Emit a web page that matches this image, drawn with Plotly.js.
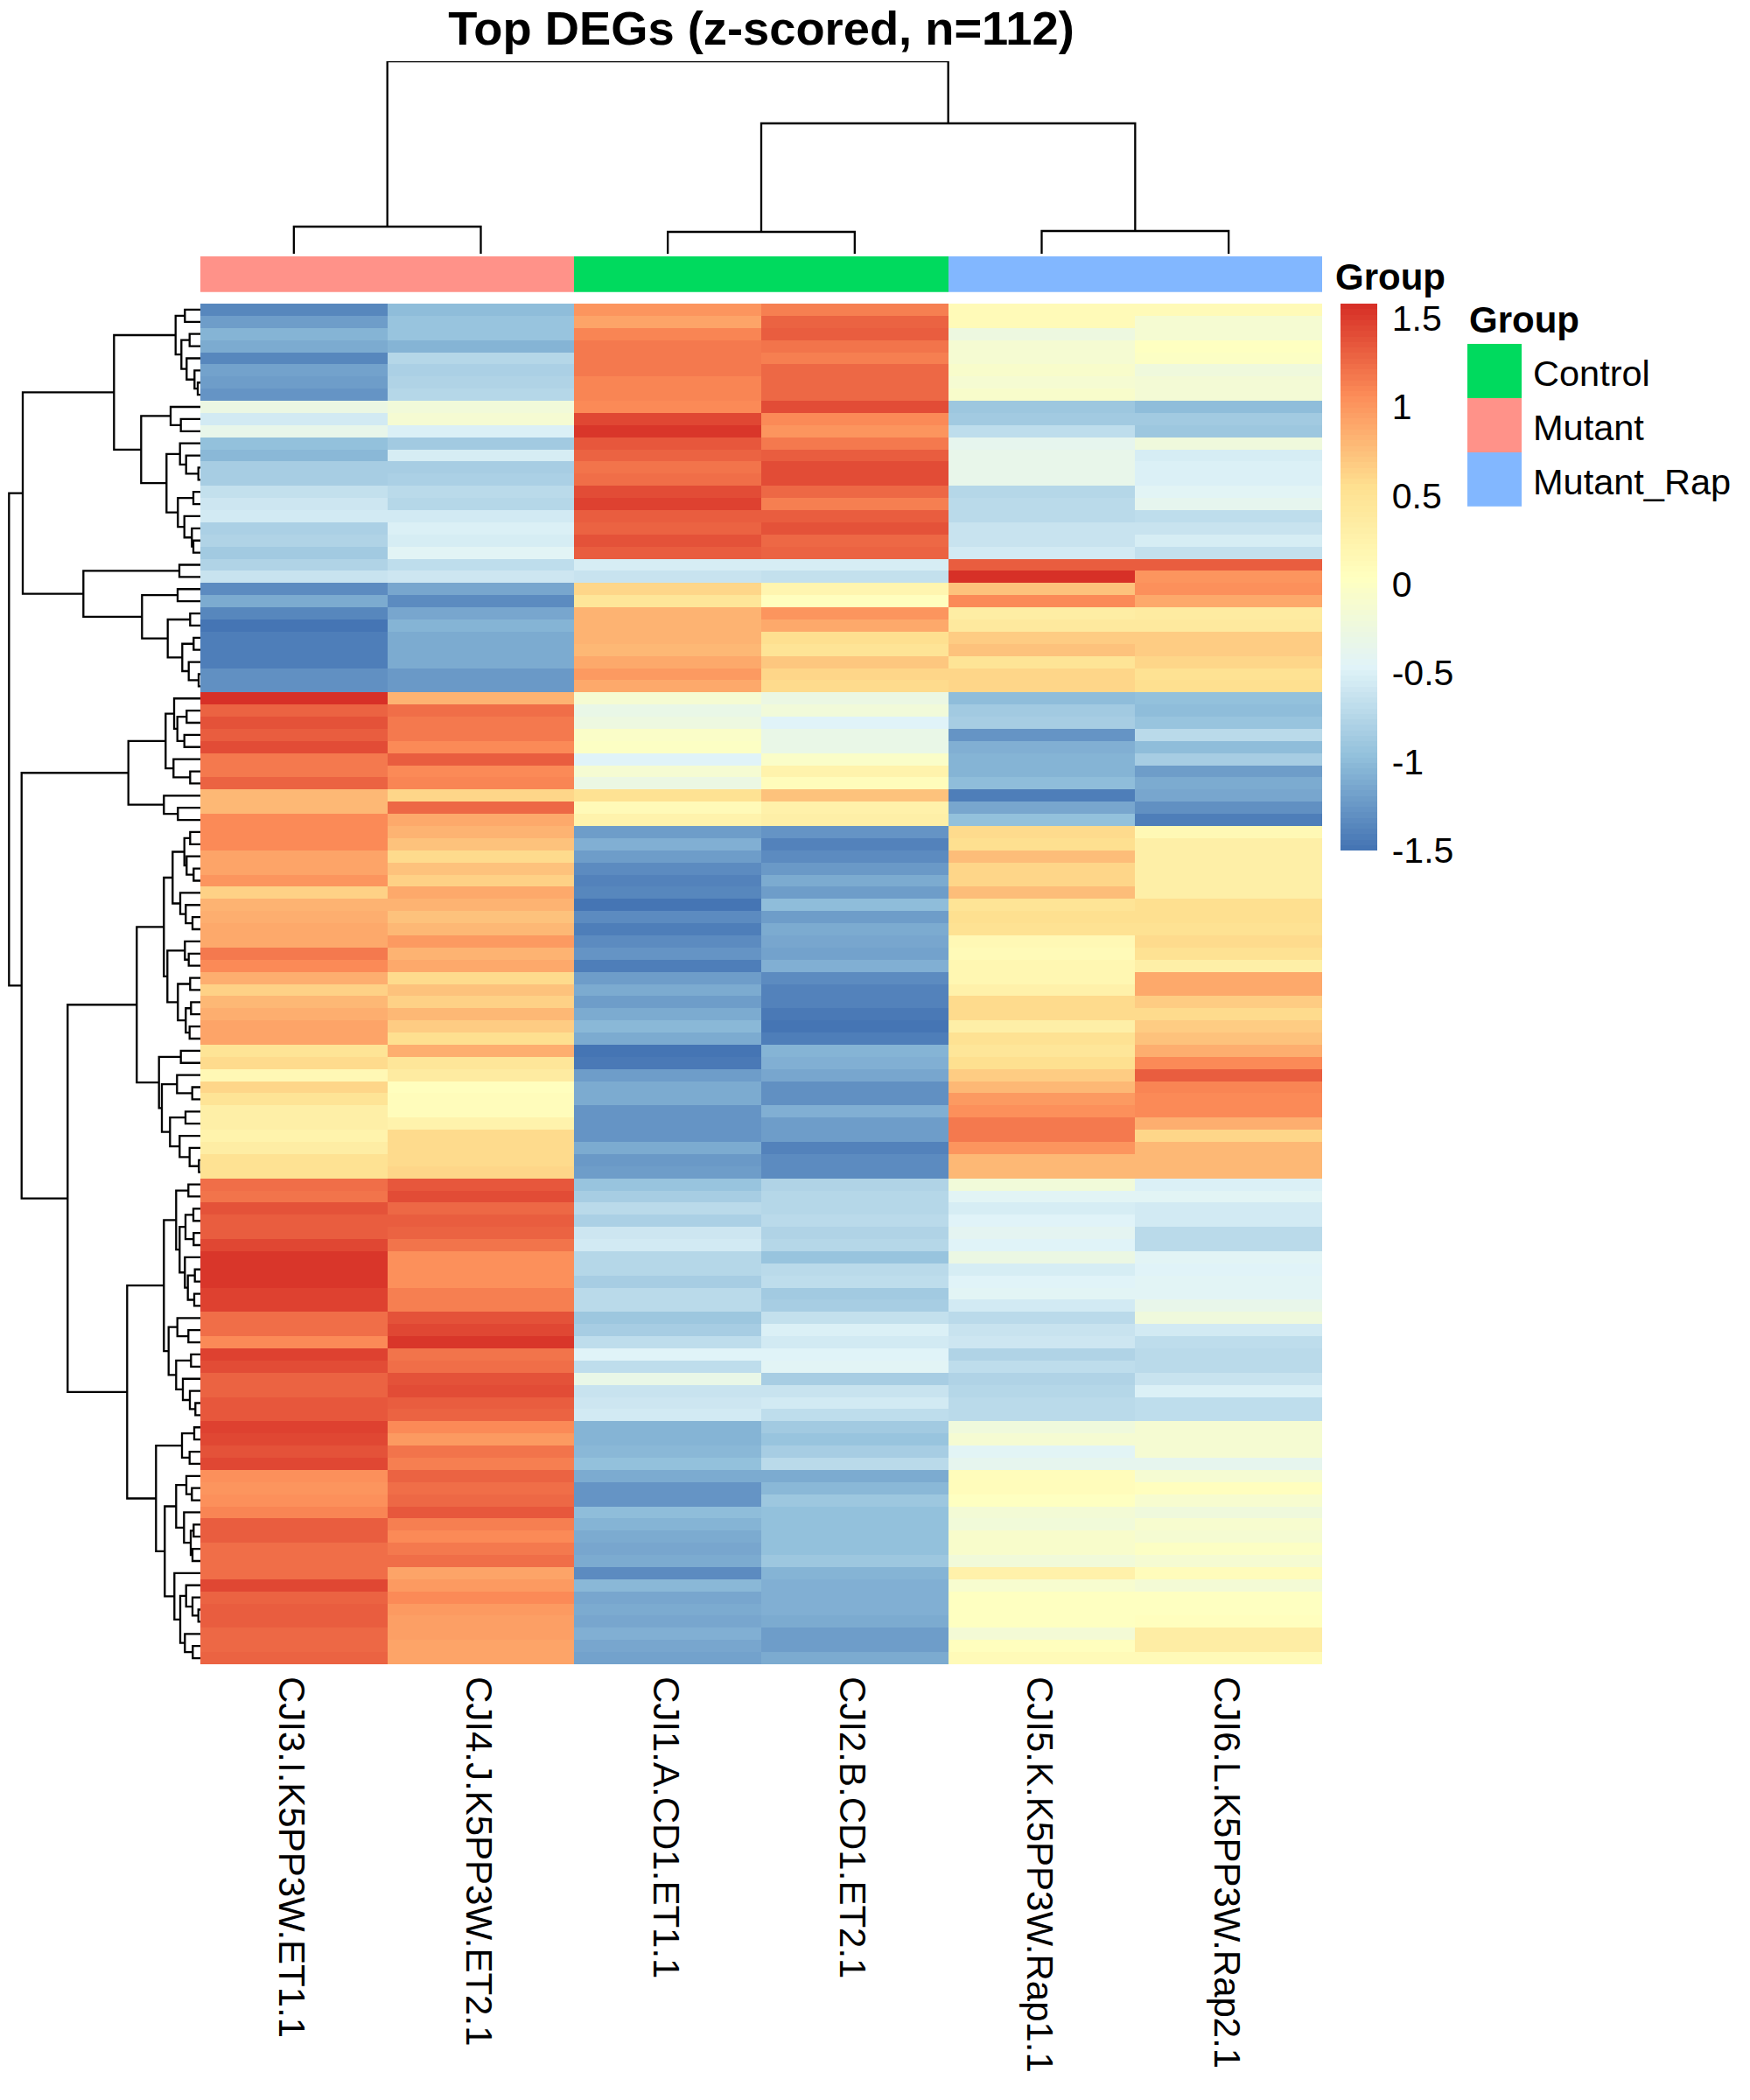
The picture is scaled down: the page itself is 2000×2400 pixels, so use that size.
<!DOCTYPE html>
<html><head><meta charset="utf-8">
<script src="https://cdn.plot.ly/plotly-3.0.1.min.js"></script>
<style>html,body{margin:0;padding:0;background:#fff}</style></head>
<body><div id="chart" style="width:2000px;height:2400px"></div>
<script>
const sampleLabels = ["CJI3.I.K5PP3W.ET1.1","CJI4.J.K5PP3W.ET2.1","CJI1.A.CD1.ET1.1","CJI2.B.CD1.ET2.1","CJI5.K.K5PP3W.Rap1.1","CJI6.L.K5PP3W.Rap2.1"];
const groupNames = ["Control","Mutant","Mutant_Rap"];
const groupColors = ["#00DA5E","#FF9289","#82B7FF"];
const sampleGroups = [1,1,0,0,2,2];
const paletteAnchors = ["#4575B4","#91BFDB","#E0F3F8","#FFFFBF","#FEE090","#FC8D59","#D73027"];
const zMin = -1.5, zMax = 1.58;
const legendTicks = [-1.5,-1,-0.5,0,0.5,1,1.5];
const legendTickText = ["-1.5","-1","-0.5","0","0.5","1","1.5"];

const cji3 = [-1.35,-1.22,-1.05,-1.1,-1.35,-1.18,-1.22,-1.28,-.27,-.56,-.33,-.97,-1.03,-.83,-.84,-.64,-.6,-.57,-.82,-.79,-.88,-.79,-.63,-1.34,-1.1,-1.36,-1.47,-1.42,-1.42,-1.42,-1.31,-1.3,
 1.56,1.28,1.38,1.31,1.41,1.16,1.16,1.28,.78,.78,1.06,1.06,1.06,.93,.93,1.0,.65,.83,.87,.88,.88,1.15,1.06,.87,.65,.78,.86,.93,.93,.5,.57,.16,.6,.5,.3,.3,.25,.32,.53,.53,
 1.23,1.2,1.37,1.33,1.33,1.44,1.53,1.53,1.53,1.48,1.48,1.24,1.24,1.08,1.48,1.42,1.3,1.28,1.35,1.35,1.47,1.44,1.37,1.44,1.04,1.01,1.04,1.1,1.33,1.33,1.24,1.24,1.24,1.43,1.28,1.33,1.33,1.26,1.26,1.28];
const cji4 = [-1.0,-.93,-.92,-1.06,-.76,-.82,-.78,-.75,-.2,-.12,-.5,-.87,-.54,-.83,-.8,-.7,-.74,-.57,-.49,-.53,-.45,-.68,-.59,-1.14,-1.32,-1.14,-1.04,-1.1,-1.1,-1.1,-1.25,-1.25,
 .84,1.22,1.16,1.16,1.06,1.31,1.06,1.09,.6,1.25,.9,.82,.73,.58,.73,.65,.88,.83,.73,.78,.98,.83,.88,.58,.72,.65,.78,.68,.55,.86,.46,.35,.07,.1,.1,.24,.57,.57,.57,.62,
 1.35,1.42,1.25,1.33,1.3,1.2,1.03,1.04,1.04,1.14,1.14,1.39,1.43,1.53,1.18,1.23,1.37,1.4,1.33,1.3,1.06,.98,1.2,1.12,1.3,1.24,1.26,1.35,1.12,1.06,1.17,1.24,.93,.98,1.06,.98,.96,.96,.91,.91];
const cji1 = [1.0,.93,1.1,1.15,1.16,1.15,1.1,1.1,1.08,1.43,1.52,1.35,1.28,1.18,1.24,1.41,1.47,1.31,1.28,1.37,1.33,-.53,-.63,.62,.45,.82,.82,.82,.78,.9,.98,.9,
 -.12,-.32,-.24,-.05,0,-.47,-.13,-.27,.53,.13,.23,-1.22,-1.09,-1.22,-1.34,-1.39,-1.37,-1.5,-1.33,-1.43,-1.33,-1.27,-1.42,-1.22,-1.13,-1.22,-1.12,-1.03,-1.11,-1.49,-1.45,-1.22,-1.13,-1.13,-1.28,-1.27,-1.27,-1.11,-1.24,-1.22,
 -.93,-.85,-.73,-.8,-.6,-.55,-.76,-.76,-.84,-.72,-.7,-.9,-.84,-.69,-.48,-.67,-.3,-.62,-.59,-.55,-1.04,-1.06,-1.02,-.97,-1.1,-1.28,-1.28,-1.0,-1.04,-1.11,-1.16,-1.11,-1.34,-1.03,-1.16,-1.12,-1.16,-1.09,-1.16,-1.19];
const cji2 = [1.12,1.29,1.32,1.18,1.14,1.25,1.27,1.26,1.4,1.08,1.02,1.15,1.32,1.41,1.4,1.25,1.14,1.31,1.38,1.26,1.28,-.53,-.66,.2,.05,1.02,.9,.55,.48,.7,.6,.57,
 -.28,-.2,-.47,-.32,-.32,-.03,.25,.08,.72,.28,.3,-1.27,-1.38,-1.33,-1.25,-1.13,-1.22,-1.0,-1.22,-1.13,-1.16,-1.18,-1.07,-1.33,-1.38,-1.38,-1.45,-1.48,-1.43,-1.05,-1.08,-1.16,-1.29,-1.29,-1.09,-1.2,-1.22,-1.38,-1.33,-1.33,
 -.78,-.76,-.76,-.7,-.78,-.75,-.93,-.73,-.67,-.88,-.85,-.66,-.49,-.56,-.48,-.45,-.83,-.63,-.57,-.67,-.88,-.92,-.83,-.73,-1.1,-1.03,-.91,-.95,-.97,-.97,-.97,-.91,-1.05,-1.08,-1.08,-1.09,-1.11,-1.2,-1.2,-1.12];
const cji5 = [.13,.13,-.25,-.14,-.14,-.06,-.12,-.08,-.9,-.87,-.69,-.37,-.35,-.35,-.35,-.74,-.73,-.73,-.62,-.62,-.56,1.31,1.57,.72,1.08,.33,.4,.66,.72,.48,.62,.62,
 -.98,-.88,-.84,-1.26,-1.07,-1.04,-1.04,-1.0,-1.42,-1.16,-.97,.57,.55,.76,.62,.6,.76,.48,.55,.52,.15,.13,.17,.17,.28,.57,.57,.3,.52,.47,.56,.68,.78,.97,1.03,1.16,1.16,1.02,.78,.78,
 -.2,-.43,-.53,-.48,-.42,-.48,-.27,-.52,-.48,-.44,-.56,-.7,-.62,-.6,-.78,-.69,-.78,-.75,-.72,-.7,-.23,-.14,-.44,-.38,.08,.08,.04,-.16,-.2,-.07,-.07,-.2,.28,-.1,.02,.02,.02,-.16,.06,.13];
const cji6 = [.13,-.12,-.12,.03,-.02,-.22,-.17,-.16,-1.0,-.87,-.9,-.22,-.53,-.5,-.5,-.45,-.38,-.67,-.63,-.54,-.64,1.31,1.0,1.03,.9,.36,.4,.66,.68,.6,.52,.55,
 -.96,-1.0,-.92,-.72,-.98,-.85,-1.22,-1.13,-1.16,-1.3,-1.42,.14,.3,.3,.3,.3,.3,.55,.55,.53,.58,.52,.3,.9,.9,.68,.57,.68,.74,.86,1.06,1.33,1.09,1.06,1.06,.86,.62,.78,.78,.78,
 -.5,-.43,-.55,-.56,-.71,-.73,-.45,-.48,-.45,-.45,-.36,-.22,-.55,-.68,-.73,-.72,-.63,-.5,-.67,-.67,-.14,-.14,-.14,-.38,-.13,.05,-.1,-.22,-.11,-.14,0,-.13,.08,-.16,.02,.04,.07,.33,.33,.12];

// Dendrograms: node = [height, left, right]; a leaf is its row / column index.
const colTree = [220,[31,0,1],[149,[25,2,3],[26,4,5]]];
const rowUpperA = [98.7,[28.3,[17.7,0,1],[21.7,[12.3,2,3],[15.7,4,[6.7,5,[3,6,7]]]]],[67.7,[34,8,[22.3,9,10]],[38.7,[23.3,11,[16.3,12,[2.3,13,14]]],[25.7,[8,15,16],[18.3,17,[9.7,18,[8,19,20]]]]]]];
const rowUpperB = [133.7,[24,21,22],[66.7,[26,23,24],[37.3,[11.7,25,26],[20.7,[7.7,27,28],[13.3,29,[2,30,31]]]]]];
const rowLowerA = [82.3,[39.7,[30,32,[26.3,[15.7,33,34],[18.3,35,36]]],[30.7,37,[11.7,38,39]]],[41.7,40,[25.7,41,42]]];
const rowLowerB = [72.7,[41.7,[31.7,[18.3,[11.7,43,44],[15.7,45,[7.7,46,47]]],[23,48,[16.7,49,[9,50,51]]]],[37.7,[17.7,52,[13.3,53,54]],[25.7,[11.7,55,56],[16.7,[10.7,57,58],[12.3,59,60]]]]],[47.3,[22.3,61,62],[44,[26.7,63,[9.3,64,65]],[34.7,[17,66,67],[23.7,68,[12.3,69,[1.7,70,71]]]]]]];
const rowLowerC = [83.7,[41.7,[27.7,[13.7,72,73],[23.7,[17,[8,74,75],[7.7,76,77]],[17.7,78,[14.3,[6.3,79,80],[7,81,82]]]]],[36.3,[26.3,83,[13.7,84,85]],[27.7,[10.7,86,87],[20,88,[12,89,[5.7,90,91]]]]]],[50.7,[21,[7,92,93],[12.3,94,95]],[40.7,[27.7,[16,96,[9.7,97,98]],[18.7,99,[11,[7.7,100,101],[9,102,103]]]],[29.7,104,[23,[16.3,105,[9,106,[2.3,107,108]]],[17.7,109,[8.7,110,111]]]]]]];
const rowTree = [218.7,[203,rowUpperA,rowUpperB],[204.3,rowLowerA,[151.7,rowLowerB,rowLowerC]]];

function treePaths(tree){
  const pos=[], hgt=[];
  (function walk(n){
    if(typeof n==="number") return {p:n,h:0};
    const a=walk(n[1]), b=walk(n[2]);
    pos.push(a.p,a.p,b.p,b.p,null);
    hgt.push(a.h,n[0],n[0],b.h,null);
    return {p:(a.p+b.p)/2,h:n[0]};
  })(tree);
  return {pos,hgt};
}
function hex2rgb(h){return [1,3,5].map(i=>parseInt(h.substr(i,2),16));}
const ramp=[];
for(let i=0;i<100;i++){
  const t=i/99*(paletteAnchors.length-1), k=Math.min(Math.floor(t),paletteAnchors.length-2), f=t-k;
  const a=hex2rgb(paletteAnchors[k]), b=hex2rgb(paletteAnchors[k+1]);
  ramp.push("rgb("+a.map((v,j)=>Math.round(v+(b[j]-v)*f)).join(",")+")");
}
const heatScale=[];
ramp.forEach((c,i)=>{heatScale.push([i/100,c],[(i+1)/100,c]);});
function stepScale(cols){const s=[];cols.forEach((c,i)=>{s.push([i/cols.length,c],[(i+1)/cols.length,c]);});return s;}

const series=[cji3,cji4,cji1,cji2,cji5,cji6];
const zRows=cji3.map((_,r)=>series.map(s=>s[r]));

const W=2000,H=2400;
const dx=(a,b)=>[a/W,b/W], dy=(top,bottom)=>[1-bottom/H,1-top/H];
const F="Liberation Sans, Arial, sans-serif";
const rowP=treePaths(rowTree), colP=treePaths(colTree);
const hidden={visible:false,fixedrange:true};
const labelNudge=-0.014;

const data=[
 {type:"heatmap",z:zRows,x:[0,1,2,3,4,5],y:zRows.map((_,i)=>i),xaxis:"x",yaxis:"y",colorscale:heatScale,zmin:zMin,zmax:zMax,zsmooth:false,hoverinfo:"skip",
  colorbar:{x:1532/W,xanchor:"left",y:1-347/H,yanchor:"top",lenmode:"pixels",len:624.6,thicknessmode:"pixels",thickness:42,xpad:0,ypad:0,outlinewidth:0,borderwidth:0,ticks:"outside",ticklen:9,tickwidth:0,tickcolor:"rgba(0,0,0,0)",tickmode:"array",tickvals:legendTicks,ticktext:legendTickText,tickfont:{family:F,size:41,color:"#000"}}},
 {type:"heatmap",z:[sampleGroups],x:[0,1,2,3,4,5],y:[0],xaxis:"x2",yaxis:"y2",colorscale:stepScale(groupColors),zmin:0,zmax:2,showscale:false,hoverinfo:"skip"},
 {type:"heatmap",z:[[0],[1],[2]],x:[0],y:[0,1,2],xaxis:"x3",yaxis:"y3",colorscale:stepScale(groupColors),zmin:0,zmax:2,showscale:false,hoverinfo:"skip"},
 {type:"scatter",mode:"lines",x:rowP.hgt,y:rowP.pos,xaxis:"x4",yaxis:"y4",line:{color:"#000",width:2.3,simplify:false},cliponaxis:false,showlegend:false,hoverinfo:"skip",connectgaps:false},
 {type:"scatter",mode:"lines",x:colP.pos,y:colP.hgt,xaxis:"x5",yaxis:"y5",line:{color:"#000",width:2.3,simplify:false},cliponaxis:false,showlegend:false,hoverinfo:"skip",connectgaps:false}
];

const ann=(text,x,y,size,bold,yref)=>({text:bold?"<b>"+text+"</b>":text,x,y,xref:"paper",yref:yref||"paper",xanchor:"left",yanchor:"middle",showarrow:false,font:{family:F,size,color:"#000"},borderpad:0});
const labelAnn=(text,i)=>Object.assign(ann(text,1751/W,i,41.5,false,"y3"),{yshift:-3});
const layout={
 width:W,height:H,margin:{l:0,r:0,t:0,b:0,pad:0},paper_bgcolor:"#fff",plot_bgcolor:"#fff",showlegend:false,
 title:{text:"<b>Top DEGs (z-scored, n=112)</b>",x:870/W,xanchor:"center",xref:"paper",y:1-32/H,yref:"paper",yanchor:"middle",font:{family:F,size:54.3,color:"#000"}},
 xaxis:{domain:dx(229,1511),range:[-0.5,5.5],anchor:"y",tickmode:"array",tickvals:[0,1,2,3,4,5].map(v=>v+labelNudge),ticktext:sampleLabels,tickangle:90,ticks:"",showgrid:false,zeroline:false,showline:false,ticklabelstandoff:13,tickfont:{family:F,size:42,color:"#000"},automargin:false,fixedrange:true},
 yaxis:Object.assign({},hidden,{domain:dy(347,1902),range:[111.5,-0.5]}),
 xaxis2:Object.assign({},hidden,{domain:dx(229,1511),range:[-0.5,5.5],anchor:"y2"}),
 yaxis2:Object.assign({},hidden,{domain:dy(293,333.7),range:[-0.5,0.5],anchor:"x2"}),
 xaxis3:Object.assign({},hidden,{domain:dx(1677,1739),range:[-0.5,0.5],anchor:"y3"}),
 yaxis3:Object.assign({},hidden,{domain:dy(393,578.7),range:[2.5,-0.5],anchor:"x3"}),
 xaxis4:Object.assign({},hidden,{domain:dx(5,229),range:[224,0],anchor:"y4"}),
 yaxis4:Object.assign({},hidden,{domain:dy(347,1902),range:[111.5,-0.5],anchor:"x4"}),
 xaxis5:Object.assign({},hidden,{domain:dx(229,1511),range:[-0.5,5.5],anchor:"y5"}),
 yaxis5:Object.assign({},hidden,{domain:dy(70,290),range:[0,220],anchor:"x5"}),
 annotations:[
  ann("Group",1525/W,1-316.5/H,42,true),
  ann("Group",1678/W,1-365/H,42,true),
  labelAnn(groupNames[0],0),
  labelAnn(groupNames[1],1),
  labelAnn(groupNames[2],2)
 ]
};
Plotly.newPlot("chart",data,layout,{staticPlot:true,displayModeBar:false});
</script></body></html>
